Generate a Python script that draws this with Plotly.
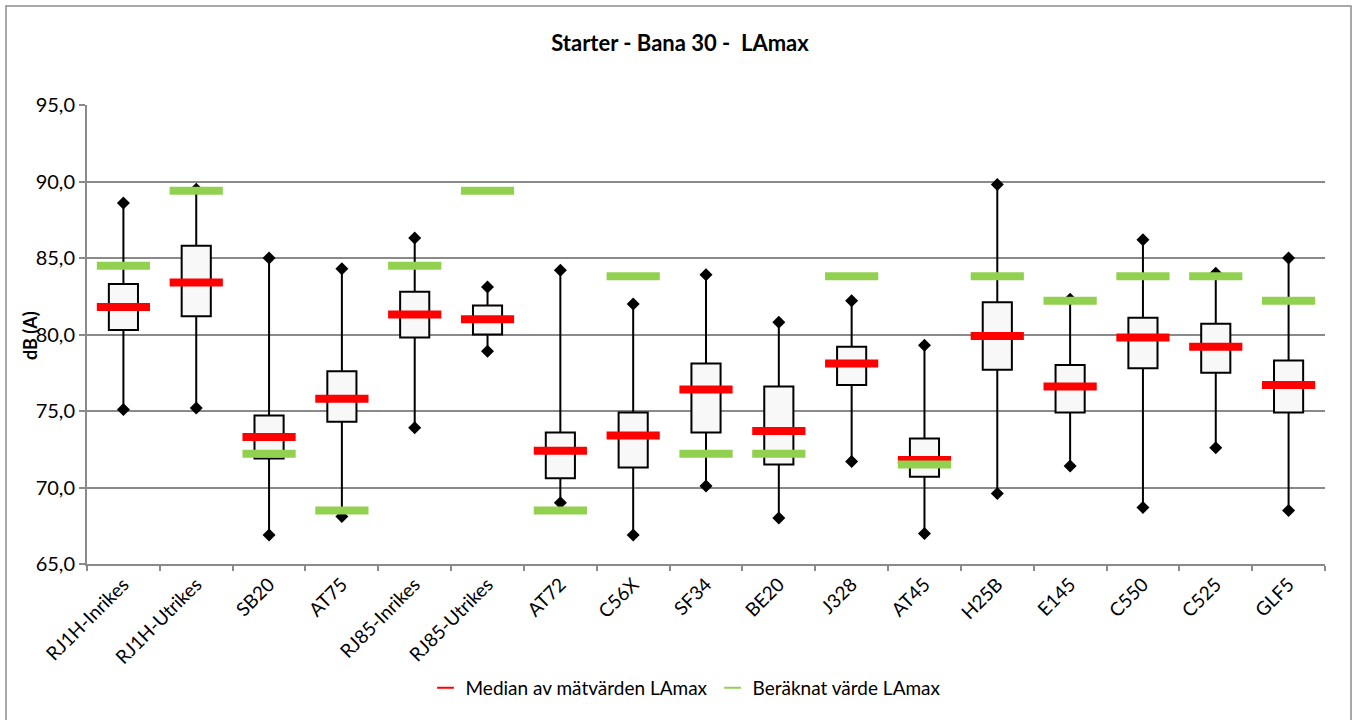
import plotly.graph_objects as go

# Aircraft types departing runway 30
categories = ["RJ1H-Inrikes", "RJ1H-Utrikes", "SB20", "AT75", "RJ85-Inrikes", "RJ85-Utrikes",
              "AT72", "C56X", "SF34", "BE20", "J328", "AT45", "H25B", "E145", "C550", "C525", "GLF5"]

# Measured LAmax statistics, dB(A)
lamax_min = [75.1, 75.2, 66.9, 68.1, 73.9, 78.9, 69.0, 66.9, 70.1, 68.0, 71.7, 67.0, 69.6, 71.4, 68.7, 72.6, 68.5]
lamax_q1 = [80.3, 81.2, 71.9, 74.3, 79.8, 80.0, 70.6, 71.3, 73.6, 71.5, 76.7, 70.7, 77.7, 74.9, 77.8, 77.5, 74.9]
lamax_median = [81.8, 83.4, 73.3, 75.8, 81.3, 81.0, 72.4, 73.4, 76.4, 73.7, 78.1, 71.8, 79.9, 76.6, 79.8, 79.2, 76.7]
lamax_q3 = [83.3, 85.8, 74.7, 77.6, 82.8, 81.9, 73.6, 74.9, 78.1, 76.6, 79.2, 73.2, 82.1, 78.0, 81.1, 80.7, 78.3]
lamax_max = [88.6, 89.5, 85.0, 84.3, 86.3, 83.1, 84.2, 82.0, 83.9, 80.8, 82.2, 79.3, 89.8, 82.3, 86.2, 84.0, 85.0]

# Calculated LAmax per type, dB(A)
lamax_calc = [84.5, 89.4, 72.2, 68.5, 84.5, 89.4, 68.5, 83.8, 72.2, 72.2, 83.8, 71.5, 83.8, 82.2, 83.8, 83.8, 82.2]

y_ticks = [65, 70, 75, 80, 85, 90, 95]

FONT = "Lato"
GRID = "#8a8a8a"

# plot area in pixels
L, R, T, B = 87, 1325, 105, 564
PW, PH = R - L, B - T

fig = go.Figure()

# Interquartile boxes with whiskers to min/max
fig.add_trace(go.Box(
    x=categories, q1=lamax_q1, median=lamax_median, q3=lamax_q3,
    lowerfence=lamax_min, upperfence=lamax_max,
    boxpoints=False, whiskerwidth=0, width=0.4,
    line=dict(color="black", width=2), fillcolor="#f8f8f8",
    showlegend=False, hoverinfo="skip",
))

# Min / max diamonds
fig.add_trace(go.Scatter(
    x=categories, y=lamax_max, mode="markers",
    marker=dict(symbol="diamond", size=10, color="black"),
    showlegend=False, hoverinfo="skip",
))
fig.add_trace(go.Scatter(
    x=categories, y=lamax_min, mode="markers",
    marker=dict(symbol="diamond", size=10, color="black"),
    showlegend=False, hoverinfo="skip",
))

# Median bars
fig.add_trace(go.Scatter(
    x=categories, y=lamax_median, mode="markers", name="Median av mätvärden LAmax",
    marker=dict(symbol="line-ew", size=38, color="#ff0000", line=dict(width=8, color="#ff0000")),
))

# Calculated value bars
fig.add_trace(go.Scatter(
    x=categories, y=lamax_calc, mode="markers", name="Beräknat värde LAmax",
    marker=dict(symbol="line-ew", size=38, color="#92d050", line=dict(width=8, color="#92d050")),
))

# Outer chart frame
fig.add_shape(type="rect", xref="paper", yref="paper",
              x0=(6 - L) / PW, x1=(1351 - L) / PW,
              y0=(B - 730) / PH, y1=(B - 6) / PH,
              line=dict(color="#8c8c8c", width=1.5), fillcolor="rgba(0,0,0,0)", layer="below")

# Y axis title
fig.add_annotation(text="<b>dB (A)</b>", xref="paper", yref="paper",
                   x=(30 - L) / PW, y=(B - 336) / PH, textangle=-90,
                   showarrow=False, font=dict(family=FONT, size=18, color="black"),
                   xanchor="center", yanchor="middle")

fig.update_layout(
    width=1357, height=720,
    margin=dict(l=L, r=1357 - R, t=T, b=720 - B, autoexpand=False),
    paper_bgcolor="white", plot_bgcolor="white",
    separators=", ",
    font=dict(family=FONT, size=19, color="black"),
    title=dict(text="<b>Starter - Bana 30 -  LAmax</b>", x=680 / 1357, xanchor="center",
               y=1 - 43 / 720, yanchor="middle", font=dict(family=FONT, size=22, color="black")),
    legend=dict(orientation="h", x=(686 - L) / PW, xanchor="center",
                yref="container", y=1 - 688 / 720, yanchor="middle",
                itemsizing="constant", font=dict(family=FONT, size=19, color="black"),
                bgcolor="rgba(0,0,0,0)"),
    xaxis=dict(type="category", categoryarray=categories, tickangle=-45, automargin=False,
               showline=True, linecolor=GRID, linewidth=2,
               ticks="outside", tickson="boundaries", ticklen=5, tickcolor=GRID, tickwidth=2,
               showgrid=False, tickfont=dict(family=FONT, size=19), range=[-0.5, 16.5]),
    yaxis=dict(range=[65, 95], tickvals=y_ticks, tickformat=".1f", automargin=False,
               showline=True, linecolor=GRID, linewidth=2,
               ticks="outside", ticklen=6, tickcolor=GRID, tickwidth=2,
               showgrid=True, gridcolor=GRID, gridwidth=2, zeroline=False,
               tickfont=dict(family=FONT, size=20)),
)

fig.write_html("out.html")
